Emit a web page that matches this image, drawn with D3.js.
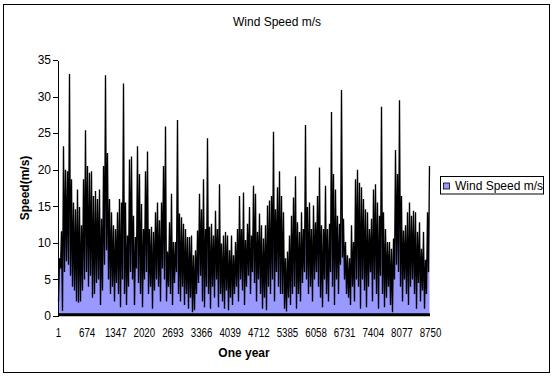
<!DOCTYPE html>
<html>
<head>
<meta charset="utf-8">
<script src="https://cdn.jsdelivr.net/npm/d3@7"></script>
<style>
  body { margin: 0; background: #fff; }
  svg { display: block; font-family: 'Liberation Sans', Arial, sans-serif; }
  .eje text { font-size: 12px; fill: #000; }
  .eje path, .eje line { stroke: #000; shape-rendering: crispEdges; }
</style>
</head>
<body>
<div id="graf"></div>
<script>
// I. Datos (velocidad del viento, maximo y minimo de cada tramo de ~47 horas)
titulo = 'Wind Speed m/s'
serie = 'Wind Speed m/s'

velMax = [
  7.9, 11.6, 23.2, 20.0, 19.8, 33.1, 18.7, 15.5, 14.6, 17.3,
  14.9, 12.4, 18.7, 25.4, 20.5, 19.6, 19.8, 16.4, 17.1, 16.0,
  17.3, 13.3, 20.5, 32.9, 22.3, 16.0, 14.2, 12.4, 11.9, 14.2,
  16.0, 15.5, 31.8, 15.5, 11.0, 21.4, 21.8,
  13.7, 10.8, 23.2, 19.4, 15.3, 11.9, 19.8, 22.5, 11.9, 12.2,
  11.5, 14.2, 15.5, 13.1, 15.5, 20.5, 25.9, 8.8, 12.8, 16.7,
  10.1, 10.1, 26.8, 14.0, 13.5, 12.6, 11.9, 10.8, 10.8, 11.0,
  8.3, 9.0, 11.7, 16.7, 14.6, 18.7, 11.9, 24.3,
  12.2, 12.6, 11.0, 14.4, 11.9, 18.0, 9.9, 11.0, 11.5, 11.0,
  9.0, 11.0, 8.3, 10.1, 11.9, 16.4, 11.9, 16.9, 10.4, 12.6,
  14.9, 11.0, 17.8, 16.7, 11.5, 14.0, 12.4, 10.6, 12.4, 15.1,
  15.8, 16.4, 25.2, 14.6, 17.6, 19.8, 16.4,
  14.2, 7.9, 8.8, 11.0, 13.7, 16.2, 19.1, 12.8, 11.5, 14.2,
  11.9, 26.1, 14.9, 15.5, 11.9, 15.1, 12.8, 16.4, 20.3, 12.4,
  11.9, 17.8, 11.9, 12.6, 27.9, 19.4, 17.3, 13.7, 12.6, 30.9,
  13.3, 10.1, 8.3, 7.9, 12.4, 10.1, 18.7, 20.0,
  18.2, 17.6, 16.0, 14.6, 14.2, 11.9, 13.3, 17.3, 18.0, 15.5,
  13.7, 28.6, 14.2, 11.9, 10.1, 10.1, 9.2, 10.6, 22.7, 19.4,
  29.5, 16.4, 11.7, 12.4, 14.2, 15.5, 13.7, 14.4, 14.2, 11.5,
  12.8, 9.2, 11.5, 7.7, 14.2, 20.5
]

velMin = [
  2, 6.5, 0.7, 6, 7.5, 7, 5.5, 4, 3.5, 2,
  1.8, 2, 3.5, 5, 6, 4, 5.5, 2.5, 3, 4.5,
  5, 1.5, 3.5, 7, 9, 5, 3, 4, 2, 4.5,
  3, 1.2, 5, 3, 1.5, 4, 6,
  5, 1.5, 6.5, 4.5, 3, 1.2, 5, 6, 3, 4,
  1, 3.5, 5, 4, 2, 6.5, 5, 2, 4, 3,
  1.5, 4.5, 6, 3, 2, 4, 1.5, 3, 1, 2.5,
  0.5, 0.8, 3, 4.5, 5.5, 2, 1.2, 4,
  3, 1, 4, 2.5, 5, 1.2, 3, 2, 1, 3.5,
  0.8, 2.5, 1.5, 3, 4, 2, 5, 3.5, 1.5, 4,
  5.5, 3, 6, 4.5, 2, 5, 3, 1, 2.5, 0.8,
  4, 3, 5, 2, 6, 4, 3,
  3, 1, 0.6, 2.5, 1.5, 3, 4, 1, 3, 2,
  4.5, 6, 5, 3, 4, 2, 5, 6, 4, 2.5,
  1.2, 5, 3, 2, 6, 4, 1.5, 5, 3, 7,
  8, 5, 3, 2.5, 1.5, 4, 2, 5,
  4, 1, 5, 3.5, 1.2, 4, 6, 2, 5, 3,
  1, 5.5, 3, 1.2, 2.5, 4, 1.5, 0.5, 5, 7,
  6, 4, 2, 5, 3, 1.5, 4, 5, 3, 1,
  4.5, 2, 3.5, 1, 3, 6
]

etiquetasX = [1, 674, 1347, 2020, 2693, 3366, 4039, 4712, 5385, 6058, 6731, 7404, 8077, 8750]
ticksY = [0, 5, 10, 15, 20, 25, 30, 35]

// II. Configuracion
ancho_total = 556
alto_total = 380
margins = { top: 60, left: 58, right: 126, bottom: 64 }
ancho = ancho_total - margins.left - margins.right
alto = alto_total - margins.top - margins.bottom

svg = d3.select('#graf').append('svg')
        .attr('width', ancho_total)
        .attr('height', alto_total)

// marco del grafico
svg.append('rect')
   .attr('x', 3.5).attr('y', 4.5)
   .attr('width', 546).attr('height', 368)
   .attr('fill', '#fff')
   .attr('stroke', '#000')

g = svg.append('g')
       .attr('transform', `translate(${ margins.left }, ${ margins.top })`)

x = d3.scaleLinear()
      .domain([1, 8750])
      .range([0, ancho])

y = d3.scaleLinear()
      .domain([0, 35])
      .range([alto, 0])

// cada tramo aporta su minimo y luego su maximo, como la linea de Excel
paso = (8750 - 1) / velMax.length
puntos = []
velMax.forEach((v, i) => {
  puntos.push({ hora: 1 + (i + 0.25) * paso, vel: velMin[i] })
  puntos.push({ hora: 1 + (i + 0.75) * paso, vel: v })
})

// III. Dibujo
area = d3.area()
         .x(d => x(d.hora))
         .y0(y(0))
         .y1(d => y(d.vel))

linea = d3.line()
          .x(d => x(d.hora))
          .y(d => y(d.vel))

g.append('path')
 .datum(puntos)
 .attr('d', area)
 .attr('fill', '#9999ff')

g.append('path')
 .datum(puntos)
 .attr('d', linea)
 .attr('fill', 'none')
 .attr('stroke', '#000')
 .attr('stroke-width', 1.35)

// borde inferior de la serie
g.append('line')
 .attr('x1', 0).attr('x2', ancho)
 .attr('y1', alto - 1.2).attr('y2', alto - 1.2)
 .attr('stroke', '#000')
 .attr('stroke-width', 3)

yAxisCall = d3.axisLeft(y)
              .tickValues(ticksY)
              .tickSize(5)
              .tickSizeOuter(0)
              .tickPadding(2)
g.append('g')
 .attr('class', 'eje')
 .call(yAxisCall)

xAxisCall = d3.axisBottom(x)
              .tickValues(etiquetasX)
              .tickFormat(d => d)
              .tickSize(0)
              .tickPadding(12)
xAxisGroup = g.append('g')
              .attr('class', 'eje')
              .attr('transform', `translate(0, ${ alto })`)
              .call(xAxisCall)
xAxisGroup.select('.domain').remove()
xAxisGroup.selectAll('text')
          .attr('textLength', d => String(d).length * 5.4)
          .attr('lengthAdjust', 'spacingAndGlyphs')

// titulos
svg.append('text')
   .attr('x', 277).attr('y', 26)
   .attr('text-anchor', 'middle')
   .style('font-size', '12px')
   .text(titulo)

svg.append('text')
   .attr('x', margins.left + ancho / 2).attr('y', 357)
   .attr('text-anchor', 'middle')
   .style('font-size', '12px')
   .style('font-weight', 'bold')
   .text('One year')

svg.append('text')
   .attr('transform', `translate(29, ${ margins.top + alto / 2 }) rotate(-90)`)
   .attr('text-anchor', 'middle')
   .style('font-size', '12px')
   .style('font-weight', 'bold')
   .text('Speed(m/s)')

// IV. Leyenda
leyenda = svg.append('g')
             .attr('transform', 'translate(440.5, 176.5)')
leyenda.append('rect')
       .attr('width', 103).attr('height', 17.5)
       .attr('fill', '#fff')
       .attr('stroke', '#000')
leyenda.append('rect')
       .attr('x', 3).attr('y', 6.5)
       .attr('width', 6).attr('height', 6)
       .attr('fill', '#9999ff')
       .attr('stroke', '#000')
       .attr('stroke-width', 0.8)
leyenda.append('text')
       .attr('x', 14.5).attr('y', 13.5)
       .style('font-size', '12px')
       .text(serie)
</script>
</body>
</html>
